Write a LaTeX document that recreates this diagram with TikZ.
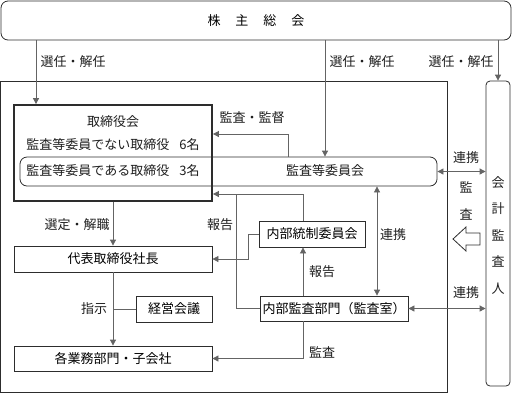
\documentclass[tikz,border=0pt]{standalone}
\usepackage{fontspec}
\setmainfont{Noto Sans CJK JP}
\usetikzlibrary{arrows.meta}
\tikzset{
  box/.style={draw=myedge, line width=0.8bp, inner sep=0pt},
  rbox/.style={box, rounded corners=7bp},
  arr/.style={draw=myline, line width=0.8bp, -{Triangle[length=6bp,width=6bp]}},
  darr/.style={draw=myline, line width=0.8bp, {Triangle[length=6bp,width=6bp]}-{Triangle[length=6bp,width=6bp]}},
  conn/.style={draw=myline, line width=0.8bp},
  lbl/.style={inner sep=0pt, text=mytext},
}
\begin{document}
\begin{tikzpicture}[x=1bp, y=-1bp, font=\fontsize{13bp}{15bp}\selectfont]
    \definecolor{myedge}{RGB}{45,45,45}
    \definecolor{myline}{RGB}{100,100,100}
    \definecolor{mytext}{RGB}{30,30,30}
    \useasboundingbox (0,0) rectangle (512,393);

    % company frame
    \draw[myedge, line width=0.8bp] (0.5,81) rectangle (447,392);

    \node[rbox, minimum width=510bp, minimum height=39bp] (kabunushi) at (256,20.5)
        {株\hspace{15bp}主\hspace{15bp}総\hspace{15bp}会};
    \node[box, line width=1.8bp, minimum width=198bp, minimum height=96bp] (torishimari) at (113,153) {};
    \node[rbox, minimum width=417bp, minimum height=29bp] (kansa) at (228.5,171.5) {};
    \node[rbox, rounded corners=4bp, minimum width=24bp, minimum height=305bp] (kaikei) at (498,233.5) {};
    \node[box, minimum width=198bp, minimum height=26bp] (daihyo) at (113,259) {代表取締役社長};
    \node[box, minimum width=106bp, minimum height=26bp] (naibutousei) at (312,234) {内部統制委員会};
    \node[box, minimum width=148bp, minimum height=25bp] (naibukansa) at (334,308.5) {内部監査部門（監査室）};
    \node[box, minimum width=76bp, minimum height=26bp] (keiei) at (174,309) {経営会議};
    \node[box, minimum width=198bp, minimum height=25bp] (kakugyomu) at (113,358.5) {各業務部門・子会社};

    % texts inside the boards
    \node[lbl] (t1) at (113,122) {取締役会};
    \node[lbl] (t2) at (113,145) {監査等委員でない取締役\hspace{10bp}6名};
    \node[lbl] (t3) at (113,171) {監査等委員である取締役\hspace{10bp}3名};
    \node[lbl] (t4) at (325,171) {監査等委員会};
    \node[lbl, align=center, font=\fontsize{13bp}{26.5bp}\selectfont] (t5) at (498,235)
        {会\\計\\監\\査\\人};

    \coordinate (c1) at (36,0);
    \coordinate (c2) at (325,0);
    \coordinate (c4) at (288,0);
    \coordinate (c5) at (236,0);
    \coordinate (c6) at (303,0);
    \coordinate (c7) at (377,0);
    \coordinate (c8) at (248,0);
    \coordinate (r1) at (0,134);
    \coordinate (r2) at (0,194);

    \draw[arr] (kabunushi.south -| c1) -- (torishimari.north -| c1);
    \draw[arr] (kabunushi.south -| c2) -- (kansa.north -| c2);
    \draw[arr] (kabunushi.south -| kaikei.north) -- (kaikei.north);
    \draw[arr] (kansa.north -| c4) |- (torishimari.east |- r1);
    \draw[arr] (naibukansa.west) -| (c5 |- r2) -- (torishimari.east |- r2);
    \draw[conn] (naibutousei.north -| c6) |- (c5 |- r2);
    \draw[arr] (naibutousei.west) -| (c8 |- daihyo.east) -- (daihyo.east);
    \draw[arr] (naibukansa.north -| c6) -- (naibutousei.south -| c6);
    \draw[darr] (kansa.south -| c7) -- (naibukansa.north -| c7);
    \draw[darr] (kansa.east) -- (kaikei.west |- kansa.east);
    \draw[darr] (naibukansa.east) -- (kaikei.west |- naibukansa.east);
    \draw[arr] (naibukansa.south -| c6) |- (kakugyomu.east);
    \draw[arr] (torishimari.south) -- (daihyo.north);
    \draw[arr] (daihyo.south) -- (kakugyomu.north);
    \draw[conn] (keiei.west) -- (daihyo.south |- keiei.west);

    % hollow arrow
    \draw[myedge, line width=0.8bp] (453,239) -- (466,227) -- (466,233) -- (480,233)
        -- (480,245) -- (466,245) -- (466,251) -- cycle;

    \node[lbl] (l1) at (73,62) {選任・解任};
    \node[lbl] (l2) at (362,62) {選任・解任};
    \node[lbl] (l3) at (461,62) {選任・解任};
    \node[lbl] (l4) at (252,118) {監査・監督};
    \node[lbl] (l5) at (77,225) {選定・解職};
    \node[lbl] (l6) at (220,225) {報告};
    \node[lbl] (l7) at (393,235) {連携};
    \node[lbl] (l8) at (322,272) {報告};
    \node[lbl] (l9) at (94,309) {指示};
    \node[lbl] (l10) at (466,158) {連携};
    \node[lbl] (l11) at (466,187) {監};
    \node[lbl] (l12) at (466,214) {査};
    \node[lbl] (l13) at (466,293) {連携};
    \node[lbl] (l14) at (322,352) {監査};
\end{tikzpicture}
\end{document}
